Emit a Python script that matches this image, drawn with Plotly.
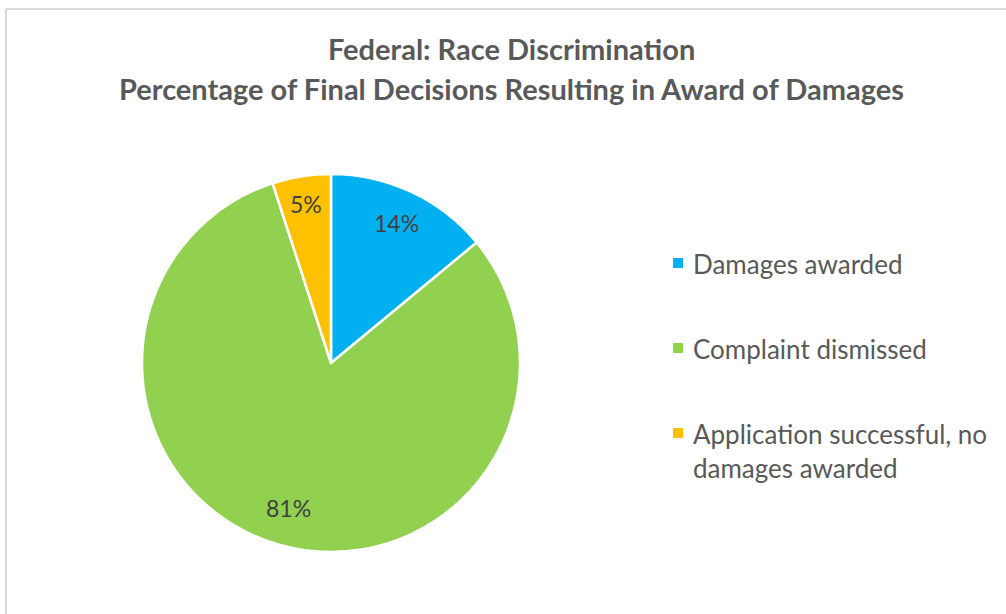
import math
import plotly.graph_objects as go

# Outcome categories, their share of final decisions (%), and slice colours
categories = ["Damages awarded", "Complaint dismissed", "Application successful, no damages awarded"]
legend_text = ["Damages awarded", "Complaint dismissed", "Application successful, no<br>damages awarded"]
shares = [14, 81, 5]
colors = ["#00B0F0", "#92D050", "#FFC000"]
label_radius = [0.82, 0.80, 0.85]  # radial position of each percent label (fraction of radius)

title_lines = ["Federal: Race Discrimination",
               "Percentage of Final Decisions Resulting in Award of Damages"]

W, H = 1006, 614
FONT = "Lato"
GREY = "#595959"

# pie geometry in pixels
CX, CY, R = 331, 363, 189

fig = go.Figure()
fig.add_trace(go.Pie(
    labels=categories,
    values=shares,
    sort=False,
    direction="clockwise",
    rotation=0,
    marker=dict(colors=colors, line=dict(color="white", width=2.5)),
    textinfo="none",
    domain=dict(x=[(CX - R) / W, (CX + R) / W], y=[1 - (CY + R) / H, 1 - (CY - R) / H]),
    showlegend=False,
    hoverinfo="label+percent",
))

annotations = []

# percent labels placed at each slice's mid-angle (clockwise from 12 o'clock)
total = sum(shares)
cum = 0
for val, rf in zip(shares, label_radius):
    mid = (cum + val / 2) / total * 2 * math.pi
    cum += val
    px = CX + rf * R * math.sin(mid)
    py = CY - rf * R * math.cos(mid)
    annotations.append(dict(
        text=f"{val}%", x=px / W, y=1 - py / H, xref="paper", yref="paper",
        xanchor="center", yanchor="middle", showarrow=False,
        font=dict(family=FONT, size=23, color="#404040")))

# two-line chart title
for line, ypix in zip(title_lines, [48, 88]):
    annotations.append(dict(
        text=f"<b>{line}</b>", x=512 / W, y=1 - ypix / H, xref="paper", yref="paper",
        xanchor="center", yanchor="middle", showarrow=False,
        font=dict(family=FONT, size=29, color=GREY)))

# legend: coloured square + label for each category
shapes = []
legend_y = [263, 348, 433]
for txt, col, ypix in zip(legend_text, colors, legend_y):
    shapes.append(dict(type="rect", xref="paper", yref="paper",
                       x0=673 / W, x1=683 / W, y0=1 - (ypix + 5) / H, y1=1 - (ypix - 5) / H,
                       fillcolor=col, line=dict(width=0)))
    annotations.append(dict(
        text=txt, x=691 / W, y=1 - (ypix - 17) / H, xref="paper", yref="paper",
        xanchor="left", yanchor="top", align="left", showarrow=False,
        font=dict(family=FONT, size=26, color=GREY)))

# thin chart-area frame along top and left edges
shapes.append(dict(type="line", xref="paper", yref="paper",
                   x0=6 / W, x1=1, y0=1 - 9 / H, y1=1 - 9 / H,
                   line=dict(color="#d9d9d9", width=2)))
shapes.append(dict(type="line", xref="paper", yref="paper",
                   x0=6 / W, x1=6 / W, y0=1 - 9 / H, y1=0,
                   line=dict(color="#d9d9d9", width=2)))

fig.update_layout(
    width=W, height=H,
    margin=dict(l=0, r=0, t=0, b=0),
    paper_bgcolor="white", plot_bgcolor="white",
    annotations=annotations, shapes=shapes,
    showlegend=False,
)

fig.write_html("out.html")
